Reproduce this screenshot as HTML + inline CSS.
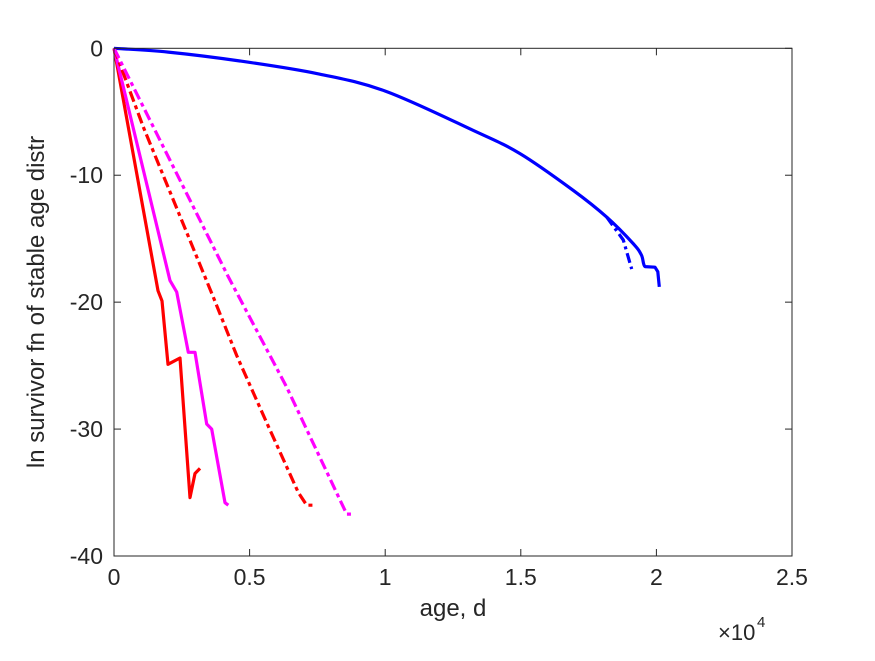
<!DOCTYPE html>
<html><head><meta charset="utf-8"><style>
body{margin:0;background:#fff;}
svg text{font-family:"Liberation Sans",sans-serif;fill:#262626;}
</style></head><body>
<svg id="chart" width="875" height="656" xmlns="http://www.w3.org/2000/svg">
<rect width="875" height="656" fill="#fff"/>
<g id="marks"></g>
<g id="axes"></g>
</svg>
<script>
const xTicks=[0,5000,10000,15000,20000,25000];
const xTickLabels=["0","0.5","1","1.5","2","2.5"];
const yTicks=[0,-10,-20,-30,-40];
const yTickLabels=["0","-10","-20","-30","-40"];
const redSolidX=[0,1622,1770,1991,2434,2802,2987,3171];
const redSolidY=[0,-19.1,-19.9,-24.9,-24.4,-35.4,-33.5,-33.1];
const magSolidX=[0,2065,2311,2740,2987,3417,3602,4093,4214];
const magSolidY=[0,-18.3,-19.2,-23.95,-23.95,-29.6,-30,-35.8,-36.0];
const redDashX=[0,1081,3662,4523,5630,6797,7105,7350];
const redDashY=[0,-6.2,-19.6,-24.2,-29.5,-35.0,-36.0,-36.0];
const magDashX=[0,4214,6367,8580,8776];
const magDashY=[0,-18.0,-26.7,-36.7,-36.7];
const blueSolidX=[0,2000,4646,7500,10004,13249,14971,16936,18167,19149,19450,19580,19950,20050,20108];
const blueSolidY=[0,-0.3,-1.0,-2.0,-3.37,-6.47,-8.3,-11.2,-13.3,-15.4,-16.3,-17.2,-17.25,-17.6,-18.8];
const blueDashX=[18167,18781,19090];
const blueDashY=[-13.3,-15.1,-17.4];

const L=114,R=792,T=48.3,B=556;
const sx=v=>L+(v-0)/25000*(R-L);
const sy=v=>T+(0-v)/40*(B-T);
const NS="http://www.w3.org/2000/svg";
const marks=document.getElementById('marks'),axes=document.getElementById('axes');
function line(xs,ys,color,dash,name,smooth){
  const pts=xs.map((x,i)=>[sx(x),sy(ys[i])]);
  const p=document.createElementNS(NS,'path');
  let d='M'+pts[0][0].toFixed(1)+','+pts[0][1].toFixed(1);
  for(let i=1;i<pts.length;i++){
    if(smooth && i<pts.length-3){
      const p0=pts[Math.max(i-2,0)],p1=pts[i-1],p2=pts[i],p3=pts[Math.min(i+1,pts.length-1)];
      const c1=[p1[0]+(p2[0]-p0[0])/6,p1[1]+(p2[1]-p0[1])/6];
      const c2=[p2[0]-(p3[0]-p1[0])/6,p2[1]-(p3[1]-p1[1])/6];
      d+=' C'+c1.join(',')+' '+c2.join(',')+' '+p2.join(',');
    } else d+=' L'+pts[i][0].toFixed(1)+','+pts[i][1].toFixed(1);
  }
  p.setAttribute('d',d);
  p.setAttribute('fill','none');p.setAttribute('stroke',color);p.setAttribute('stroke-width','3.2');
  p.setAttribute('stroke-linejoin','round');
  if(dash)p.setAttribute('stroke-dasharray',dash);
  
  
  marks.appendChild(p);
}
line(blueSolidX,blueSolidY,'#0000ff',null,'blue-solid-line',true);
line(blueDashX,blueDashY,'#0000ff','10 4 3 4','blue-dashdot-line',false);
line(redSolidX,redSolidY,'#ff0000',null,'red-solid-line',false);
line(magSolidX,magSolidY,'#ff00ff',null,'magenta-solid-line',false);
line(redDashX,redDashY,'#ff0000','11 4 4 4','red-dashdot-line',false);
line(magDashX,magDashY,'#ff00ff','11 4 4 4','magenta-dashdot-line',false);

const box=document.createElementNS(NS,'rect');
box.setAttribute('x',L);box.setAttribute('y',T);box.setAttribute('width',R-L);box.setAttribute('height',B-T);
box.setAttribute('fill','none');box.setAttribute('stroke','#262626');box.setAttribute('stroke-width','1');


axes.appendChild(box);
function seg(x1,y1,x2,y2){const l=document.createElementNS(NS,'line');
 l.setAttribute('x1',x1);l.setAttribute('y1',y1);l.setAttribute('x2',x2);l.setAttribute('y2',y2);
 l.setAttribute('stroke','#262626');l.setAttribute('stroke-width','1');
 
 
 axes.appendChild(l);}
function txt(x,y,s,size,anchor,name,rot){const t=document.createElementNS(NS,'text');
 t.setAttribute('x',x);t.setAttribute('y',y);t.setAttribute('font-size',size);t.setAttribute('text-anchor',anchor);
 if(rot)t.setAttribute('transform',rot);
 t.textContent=s;
 
 
 axes.appendChild(t);return t;}
xTicks.forEach((v,i)=>{const x=sx(v);seg(x,B,x,B-7);seg(x,T,x,T+7);txt(x,B+29,xTickLabels[i],23,'middle','x-tick-label');});
yTicks.forEach((v,i)=>{const y=sy(v);seg(L,y,L+7,y);seg(R,y,R-7,y);txt(L-11,y+8,yTickLabels[i],23,'end','y-tick-label');});
txt(453,616,'age, d',24,'middle','x-axis-title');
txt(718,640,'\u00d710',22,'start','x-exponent');
txt(757,627,'4',15,'start','x-exponent-power');
txt(44,302,'ln survivor fn of stable age distr',24,'middle','y-axis-title','rotate(-90 44 302)');
</script>
</body></html>
